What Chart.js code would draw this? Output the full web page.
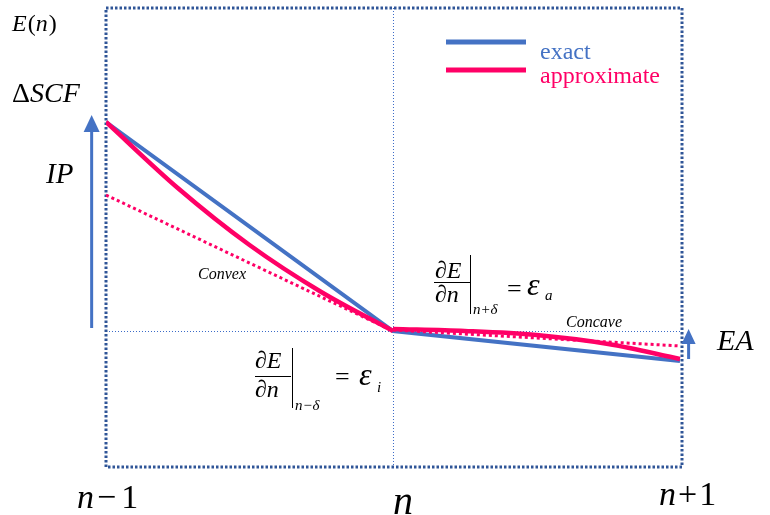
<!DOCTYPE html>
<html>
<head>
<meta charset="utf-8">
<script src="https://cdn.jsdelivr.net/npm/chart.js@4"></script>
<style>body{margin:0;background:#fff}</style>
</head>
<body>
<canvas id="myChart" width="770" height="515"></canvas>
<script>
// positions along n axis: n-1, n, n+1
const xTicks = [0, 1, 2];
const exactX = [0, 1, 2];
const exactY = [2.09, 0, -0.30];
const approxLeftX = [0, 0.25, 0.5, 0.75, 1];
const approxLeftY = [2.09, 1.43, 0.86, 0.39, 0];
const approxRightX = [1, 1.25, 1.5, 1.75, 2];
const approxRightY = [0.02, 0.0, -0.04, -0.13, -0.28];
const tangentLeftX = [0, 1];
const tangentLeftY = [1.36, 0];
const tangentRightX = [1, 2];
const tangentRightY = [0.01, -0.15];
const seriesNames = ["exact", "approximate"];
// arrows: x, start, tip
const ipArrow = [-0.05, 0.03, 2.16];
const eaArrow = [2.03, -0.28, 0.02];

const blue = "#4472C4";
const red = "#FF0066";
const frame = "#2F5597";
const serif = '"Liberation Serif", "Times New Roman", serif';
const it = (s) => "italic " + s + "px " + serif;
const up = (s) => s + "px " + serif;

const toPts = (xs, ys) => xs.map((x, i) => ({ x: x, y: ys[i] }));

// draw text pieces one after another; optional third item = extra gap before
function parts(ctx, list, x, y) {
  for (const [t, f, gap] of list) {
    x += gap || 0;
    ctx.font = f;
    ctx.fillText(t, x, y);
    x += ctx.measureText(t).width;
  }
}

function arrow(ctx, xs, ys, a, hw, hl) {
  const px = xs.getPixelForValue(a[0]);
  const p0 = ys.getPixelForValue(a[1]);
  const tip = ys.getPixelForValue(a[2]);
  ctx.strokeStyle = blue;
  ctx.fillStyle = blue;
  ctx.lineWidth = 3;
  ctx.setLineDash([]);
  ctx.beginPath();
  ctx.moveTo(px, p0);
  ctx.lineTo(px, tip + hl - 1);
  ctx.stroke();
  ctx.beginPath();
  ctx.moveTo(px, tip);
  ctx.lineTo(px - hw, tip + hl);
  ctx.lineTo(px + hw, tip + hl);
  ctx.closePath();
  ctx.fill();
}

const annot = {
  id: "annot",
  beforeDatasetsDraw(chart) {
    const { ctx, chartArea: a, scales } = chart;
    const xm = scales.x.getPixelForValue(xTicks[1]);
    const y0 = scales.y.getPixelForValue(0);
    ctx.save();
    ctx.strokeStyle = "#3B6BC8";
    ctx.lineWidth = 1;
    ctx.setLineDash([1, 2]);
    ctx.beginPath();
    ctx.moveTo(xm + 0.5, a.top);
    ctx.lineTo(xm + 0.5, a.bottom);
    ctx.moveTo(a.left, y0 + 0.5);
    ctx.lineTo(a.right, y0 + 0.5);
    ctx.stroke();
    ctx.strokeStyle = frame;
    ctx.lineWidth = 3;
    ctx.setLineDash([2.5, 2]);
    ctx.strokeRect(a.left, a.top, a.right - a.left, a.bottom - a.top);
    ctx.restore();
  },
  afterDatasetsDraw(chart) {
    const { ctx, scales } = chart;
    const xs = scales.x, ys = scales.y;
    ctx.save();
    arrow(ctx, xs, ys, ipArrow, 8, 17);
    arrow(ctx, xs, ys, eaArrow, 7, 15);

    // legend
    ctx.lineWidth = 5;
    ctx.strokeStyle = blue;
    ctx.beginPath(); ctx.moveTo(446, 42); ctx.lineTo(526, 42); ctx.stroke();
    ctx.strokeStyle = red;
    ctx.beginPath(); ctx.moveTo(446, 70); ctx.lineTo(526, 70); ctx.stroke();
    ctx.textBaseline = "alphabetic";
    ctx.font = up(24);
    ctx.fillStyle = blue;
    ctx.fillText(seriesNames[0], 540, 59);
    ctx.fillStyle = red;
    ctx.fillText(seriesNames[1], 540, 83);

    ctx.fillStyle = "#000";
    parts(ctx, [["E", it(24)], ["(", up(24), 1], ["n", it(24)], [")", up(24), 1]], 12, 31);
    parts(ctx, [["Δ", up(28)], ["SCF", it(28)]], 12, 102);
    parts(ctx, [["IP", it(29)]], 46, 183);
    parts(ctx, [["EA", it(30)]], 717, 350);
    parts(ctx, [["Convex", it(16)]], 198, 279);
    parts(ctx, [["Concave", it(16)]], 566, 327);

    // dE/dn at n-delta
    ctx.lineWidth = 1;
    ctx.strokeStyle = "#000";
    parts(ctx, [["∂E", it(24)]], 255, 368);
    ctx.beginPath(); ctx.moveTo(255, 376.5); ctx.lineTo(291, 376.5); ctx.stroke();
    parts(ctx, [["∂n", it(24)]], 255, 397);
    ctx.beginPath(); ctx.moveTo(292.5, 348); ctx.lineTo(292.5, 408); ctx.stroke();
    parts(ctx, [["n−δ", it(15)]], 295, 410);
    parts(ctx, [["=", up(26)]], 335, 385);
    parts(ctx, [["ε", it(32)]], 359, 385);
    parts(ctx, [["i", it(15)]], 377, 392);

    // dE/dn at n+delta
    parts(ctx, [["∂E", it(24)]], 435, 278);
    ctx.beginPath(); ctx.moveTo(434, 282.5); ctx.lineTo(470, 282.5); ctx.stroke();
    parts(ctx, [["∂n", it(24)]], 435, 302);
    ctx.beginPath(); ctx.moveTo(470.5, 255); ctx.lineTo(470.5, 314); ctx.stroke();
    parts(ctx, [["n+δ", it(15)]], 473, 314);
    parts(ctx, [["=", up(26)]], 507, 297);
    parts(ctx, [["ε", it(32)]], 527, 295);
    parts(ctx, [["a", it(15)]], 545, 300);

    // n axis labels
    const px = xTicks.map((v) => xs.getPixelForValue(v));
    parts(ctx, [["n", it(34)], ["−", up(34), 3], ["1", up(34), 5]], px[0] - 29, 508);
    ctx.font = it(40);
    ctx.textAlign = "center";
    ctx.fillText("n", px[1] + 10, 514);
    ctx.textAlign = "left";
    parts(ctx, [["n", it(34)], ["+", up(34), 2], ["1", up(34), 2]], px[2] - 21, 505);
    ctx.restore();
  },
};

const lineBase = { pointRadius: 0, fill: false, tension: 0 };
const curveBase = { pointRadius: 0, fill: false, cubicInterpolationMode: "monotone" };

new Chart(document.getElementById("myChart"), {
  type: "line",
  data: {
    datasets: [
      { ...lineBase, label: seriesNames[0], data: toPts(exactX, exactY), borderColor: blue, borderWidth: 4, order: 3 },
      { ...curveBase, label: seriesNames[1], data: toPts(approxLeftX, approxLeftY), borderColor: red, borderWidth: 4.5, order: 2 },
      { ...curveBase, label: seriesNames[1], data: toPts(approxRightX, approxRightY), borderColor: red, borderWidth: 4.5, order: 2 },
      { ...lineBase, label: "tangent", data: toPts(tangentLeftX, tangentLeftY), borderColor: red, borderWidth: 3, borderDash: [3, 3], order: 1 },
      { ...lineBase, label: "tangent", data: toPts(tangentRightX, tangentRightY), borderColor: red, borderWidth: 3, borderDash: [3, 3], order: 1 },
    ],
  },
  options: {
    responsive: false,
    animation: false,
    layout: { padding: { left: 106, top: 8, right: 88, bottom: 48 } },
    plugins: { legend: { display: false }, tooltip: { enabled: false } },
    scales: {
      x: { type: "linear", min: 0, max: 2.007, display: false },
      y: { type: "linear", min: -1.36, max: 3.23, display: false },
    },
  },
  plugins: [annot],
});
</script>
</body>
</html>
